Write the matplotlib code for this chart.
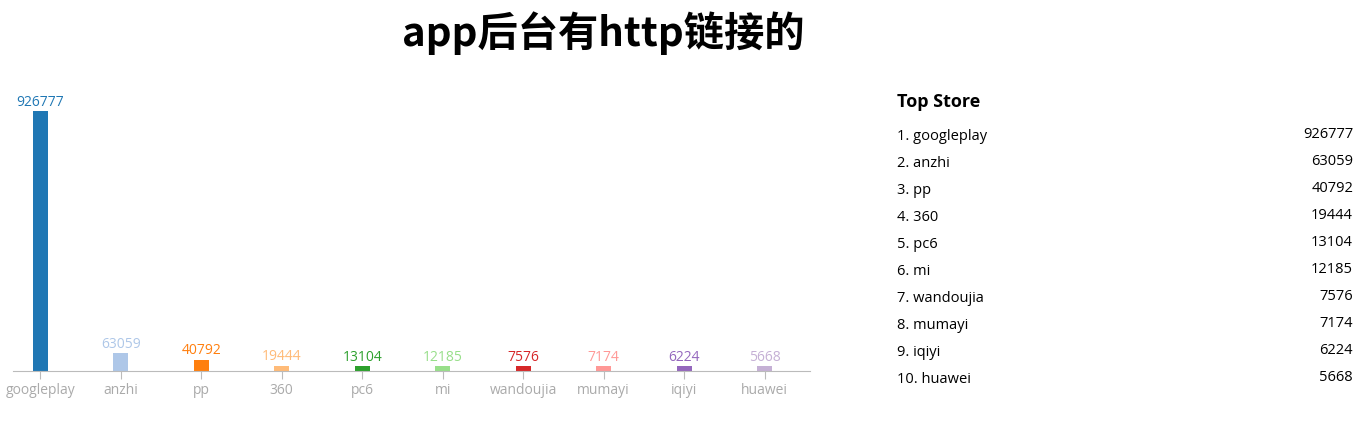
import matplotlib.pyplot as plt

plt.rcParams['font.family'] = ['Noto Sans CJK SC', 'DejaVu Sans']

# --- DATA ---
stores = ["googleplay", "anzhi", "pp", "360", "pc6", "mi",
          "wandoujia", "mumayi", "iqiyi", "huawei"]
counts = [926777, 63059, 40792, 19444, 13104, 12185, 7576, 7174, 6224, 5668]
colors = ["#1f77b4", "#aec7e8", "#ff7f0e", "#ffbb78", "#2ca02c",
          "#98df8a", "#d62728", "#ff9896", "#9467bd", "#c5b0d5"]

W, H = 1366, 428
fig = plt.figure(figsize=(W / 100, H / 100), dpi=100)

# --- BAR CHART ---
ax = fig.add_axes([0 / W, (H - 371) / H, 813 / W, 260 / H])
x = list(range(len(stores)))
# tiny bars get a minimum visible height (~5px), like the original
min_h = max(counts) * 5 / 260
shown = [max(v, min_h) for v in counts]
ax.bar(x, shown, width=0.19, color=colors)
ax.set_xlim(-0.5, 9.6)
ax.set_ylim(0, max(counts))

for xi, v, h, c in zip(x, counts, shown, colors):
    ax.annotate(str(v), (xi, h), xytext=(0, 1), textcoords="offset points",
                ha="center", va="bottom", color=c, fontsize=10,
                family=["Open Sans", "DejaVu Sans"])

for s in ["top", "right", "left"]:
    ax.spines[s].set_visible(False)
ax.spines["bottom"].set_color("#bbbbbb")
ax.spines["bottom"].set_bounds(-0.34, 9.56)
ax.set_yticks([])
ax.set_xticks(x)
ax.set_xticklabels(stores, family=["Open Sans", "DejaVu Sans"])
ax.tick_params(axis="x", colors="#bbbbbb", labelcolor="#aaaaaa",
               length=6, pad=3, labelsize=10)
ax.patch.set_alpha(0)

# --- TITLE ---
fig.text(603 / W, 1 - 33 / H, "app后台有http链接的", ha="center", va="center",
         fontsize=29, fontweight="bold")

# --- TOP STORE LIST ---
fig.text(897 / W, 1 - 102 / H, "Top Store", ha="left", va="center",
         fontsize=13, fontweight="bold", family=["Open Sans", "DejaVu Sans"])
for i, (name, v) in enumerate(zip(stores, counts)):
    y = 1 - (136 + i * 27.1) / H
    fig.text(897 / W, y, f"{i + 1}. {name}", ha="left", va="center",
             fontsize=10.5, family=["Open Sans", "DejaVu Sans"])
    fig.text(1353 / W, y + 2 / H, str(v), ha="right", va="center",
             fontsize=10.5, family=["Open Sans", "DejaVu Sans"])

fig.savefig("out.png", dpi=100)
